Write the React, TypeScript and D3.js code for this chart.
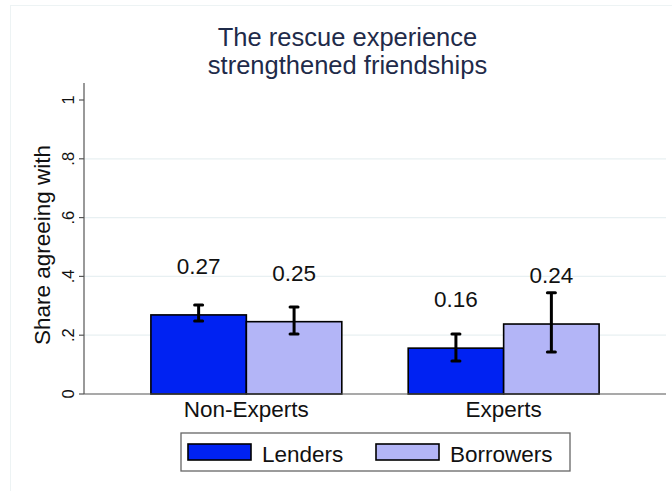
import React from "react";
import * as d3 from "d3";

const categories = ["Non-Experts", "Experts"];
const seriesNames = ["Lenders", "Borrowers"];
const lendersValues = [0.269, 0.156];
const borrowersValues = [0.246, 0.238];
const lendersLower = [0.248, 0.112];
const lendersUpper = [0.303, 0.204];
const borrowersLower = [0.204, 0.143];
const borrowersUpper = [0.296, 0.344];
const yTicks = [0, 0.2, 0.4, 0.6, 0.8, 1];
const yTickLabels = ["0", ".2", ".4", ".6", ".8", "1"];
const titleLines = ["The rescue experience", "strengthened friendships"];
const yLabel = "Share agreeing with";
const seriesColors = ["#0022f2", "#b3b5f7"];

const W = 672;
const H = 491;
const FONT = "'Liberation Sans', Arial, Helvetica, sans-serif";

export default function App() {
  const plotLeft = 84;
  const plotRight = 666;
  const y = d3.scaleLinear().domain([0, 1]).range([394, 100]);
  const x0 = d3
    .scaleBand<string>()
    .domain(categories)
    .range([plotLeft, plotRight])
    .paddingInner(0.258)
    .paddingOuter(0.26);
  const x1 = d3
    .scaleBand<string>()
    .domain(seriesNames)
    .range([0, x0.bandwidth()])
    .padding(0);

  const series = [
    { name: seriesNames[0], values: lendersValues, lo: lendersLower, hi: lendersUpper, color: seriesColors[0] },
    { name: seriesNames[1], values: borrowersValues, lo: borrowersLower, hi: borrowersUpper, color: seriesColors[1] },
  ];
  const fmt = d3.format(".2f");

  return (
    <svg width={W} height={H} style={{ position: "absolute", left: 0, top: 0, background: "#fff" }} fontFamily={FONT}>
      <rect x={0} y={0} width={W} height={H} fill="#fff" />
      <rect x={10.5} y={5.5} width={W - 10} height={H} fill="none" stroke="#edf3f4" strokeWidth={1} />
      {titleLines.map((t, i) => (
        <text key={t} x={347.5} y={46 + i * 28} textAnchor="middle" fontSize={25.5} fill="#1f2b4a">
          {t}
        </text>
      ))}
      {/* gridlines */}
      {yTicks.slice(1, -1).map((t) => (
        <line key={t} x1={plotLeft} x2={plotRight} y1={y(t)} y2={y(t)} stroke="#e8f0f2" strokeWidth={1.2} />
      ))}
      {/* y axis */}
      <line x1={plotLeft} x2={plotLeft} y1={83} y2={y(0)} stroke="#555" strokeWidth={1.2} />
      {yTicks.map((t, i) => (
        <g key={t}>
          <line x1={plotLeft - 5} x2={plotLeft} y1={y(t)} y2={y(t)} stroke="#555" strokeWidth={1.2} />
          <text transform={`translate(74,${y(t)}) rotate(-90)`} textAnchor="middle" fontSize={16.5} fill="#111">
            {yTickLabels[i]}
          </text>
        </g>
      ))}
      <text transform={`translate(50,245) rotate(-90)`} textAnchor="middle" fontSize={22.5} fill="#111">
        {yLabel}
      </text>
      {/* bars */}
      {categories.map((c, ci) => (
        <g key={c} transform={`translate(${x0(c)},0)`}>
          {series.map((s) => (
            <rect
              key={s.name}
              x={x1(s.name)}
              y={y(s.values[ci])}
              width={x1.bandwidth()}
              height={y(0) - y(s.values[ci])}
              fill={s.color}
              stroke="#000"
              strokeWidth={1.6}
            />
          ))}
        </g>
      ))}
      {/* baseline */}
      <line x1={plotLeft} x2={plotRight} y1={y(0)} y2={y(0)} stroke="#555" strokeWidth={1.2} />
      {/* error bars and labels */}
      {categories.map((c, ci) => (
        <g key={c + "e"} transform={`translate(${x0(c)},0)`}>
          {series.map((s) => {
            const cx = (x1(s.name) as number) + x1.bandwidth() / 2;
            return (
              <g key={s.name}>
                <line x1={cx} x2={cx} y1={y(s.lo[ci])} y2={y(s.hi[ci])} stroke="#000" strokeWidth={3} />
                <line x1={cx - 4} x2={cx + 4} y1={y(s.lo[ci])} y2={y(s.lo[ci])} stroke="#000" strokeWidth={3} strokeLinecap="round" />
                <line x1={cx - 4} x2={cx + 4} y1={y(s.hi[ci])} y2={y(s.hi[ci])} stroke="#000" strokeWidth={3} strokeLinecap="round" />
                <text x={cx} y={y(s.values[ci]) - 41} textAnchor="middle" fontSize={22.5} fill="#111">
                  {fmt(s.values[ci])}
                </text>
              </g>
            );
          })}
          <text x={x0.bandwidth() / 2} y={417} textAnchor="middle" fontSize={22.5} fill="#111">
            {c}
          </text>
        </g>
      ))}
      {/* legend */}
      <rect x={181} y={433} width={389} height={38} fill="#fff" stroke="#666" strokeWidth={1.3} />
      {series.map((s, i) => {
        const lx = [188, 376][i];
        return (
          <g key={s.name + "leg"}>
            <rect x={lx} y={444} width={63} height={16} fill={s.color} stroke="#000" strokeWidth={1.6} />
            <text x={lx + 74} y={462} fontSize={22.5} fill="#111">
              {s.name}
            </text>
          </g>
        );
      })}
    </svg>
  );
}
